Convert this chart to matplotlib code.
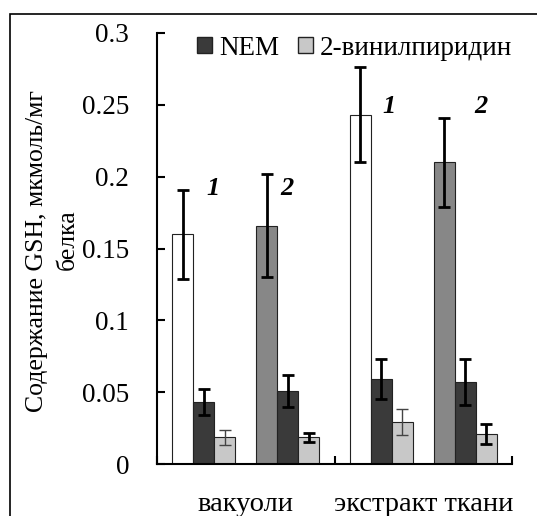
import numpy as np
import matplotlib.pyplot as plt
from matplotlib.patches import Rectangle, Patch

plt.rcParams['font.family'] = ['Liberation Serif', 'DejaVu Serif']

categories = ['вакуоли', 'экстракт ткани']
# образцы 1 и 2 (без блокировки)
s1 = [0.160, 0.243]
s1_err = [0.031, 0.033]
s2 = [0.166, 0.210]
s2_err = [0.036, 0.031]
# NEM
nem1 = [0.043, 0.059]
nem1_err = [0.009, 0.014]
nem2 = [0.051, 0.057]
nem2_err = [0.011, 0.016]
# 2-винилпиридин
vp1 = [0.0185, 0.029]
vp1_err = [0.005, 0.009]
vp2 = [0.0185, 0.021]
vp2_err = [0.003, 0.007]

fig = plt.figure(figsize=(5.37, 5.16), dpi=100)
ax = fig.add_axes([157/537, 1-464/516, (512-157)/537, (464-33)/516])

x = np.arange(len(categories))
w = 0.83/7
x0 = x + 0.085 + w/2

thick = dict(ecolor='black', elinewidth=2, capsize=4.5, capthick=2)
thin = dict(ecolor='#444444', elinewidth=1, capsize=4.5, capthick=1)
edge = dict(edgecolor='#222222', linewidth=0.8)

ax.bar(x0, s1, w, yerr=s1_err, color='white', error_kw=thick, **edge)
ax.bar(x0 + w, nem1, w, yerr=nem1_err, color='#3a3a3a', error_kw=thick, **edge)
ax.bar(x0 + 2*w, vp1, w, yerr=vp1_err, color='#c8c8c8', error_kw=thin, **edge)
ax.bar(x0 + 4*w, s2, w, yerr=s2_err, color='#878787', error_kw=thick, **edge)
ax.bar(x0 + 5*w, nem2, w, yerr=nem2_err, color='#3a3a3a', error_kw=thick, **edge)
ax.bar(x0 + 6*w, vp2, w, yerr=vp2_err, color='#c8c8c8', error_kw=thick, **edge)

# номера образцов
for xx, yy, t in [(0.316, 0.192, '1'), (0.734, 0.192, '2'),
                  (1.305, 0.249, '1'), (1.825, 0.249, '2')]:
    ax.text(xx, yy, t, fontsize=19, fontweight='bold', fontstyle='italic',
            ha='center', va='center')

ax.set_xlim(0, 2)
ax.set_ylim(0, 0.3)
ax.set_yticks([0, 0.05, 0.1, 0.15, 0.2, 0.25, 0.3])
ax.set_yticklabels(['0', '0.05', '0.1', '0.15', '0.2', '0.25', '0.3'])
ax.set_xticks([0, 1, 2])
ax.set_xticklabels(['', '', ''])
ax.set_xticks(x + 0.5, minor=True)
ax.set_xticklabels(categories, minor=True, fontsize=20.5)
ax.tick_params(axis='x', which='minor', length=0, pad=20)
ax.tick_params(axis='both', which='major', direction='in', length=6, width=1.5,
               labelsize=19.5)
ax.tick_params(axis='y', pad=20)
for s in ['top', 'right']:
    ax.spines[s].set_visible(False)
ax.spines['left'].set_linewidth(1.5)
ax.spines['bottom'].set_linewidth(1.5)

# подпись оси в две строки, вторая чуть смещена как в оригинале
ax.set_ylabel('Содержание GSH, мкмоль/мг', fontsize=18.5)
ax.yaxis.set_label_coords(-0.307, 0.493)
ax.text(-0.252, 0.52, 'белка', fontsize=18.5, rotation=90,
        ha='center', va='center', transform=ax.transAxes)

handles = [Patch(facecolor='#3a3a3a', edgecolor='#222222', label='NEM'),
           Patch(facecolor='#c8c8c8', edgecolor='#222222', label='2-винилпиридин')]
ax.legend(handles=handles, ncol=2, loc='upper right', bbox_to_anchor=(1.03, 1.019),
          frameon=False, fontsize=19.5, handlelength=0.55, handleheight=0.55,
          handletextpad=0.25, columnspacing=0.7, borderaxespad=0)

fig.patches.append(Rectangle((10/537, -0.1), 1.2, 1.1 - 14/516,
                             transform=fig.transFigure, fill=False,
                             edgecolor='black', linewidth=1.2))

fig.savefig('out.png', dpi=100)
